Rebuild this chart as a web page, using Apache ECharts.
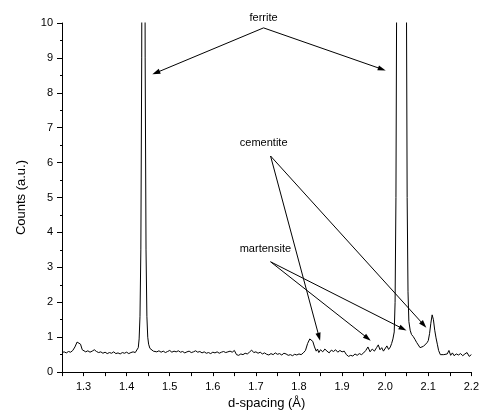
<!DOCTYPE html>
<html><head><meta charset="utf-8">
<script src="https://cdn.jsdelivr.net/npm/echarts@6/dist/echarts.min.js"></script>
<style>html,body{margin:0;padding:0;background:#fff}#c{width:482px;height:415px}</style>
</head><body><div id="c"></div>
<script>
// d-spacing (Å)
var dSpacing = [
1.250,1.255,1.260,1.265,1.270,1.275,1.280,1.285,1.289,1.293,1.297,1.300,1.305,1.310,1.315,1.320,1.325,1.330,1.335,1.340,
1.345,1.350,1.355,1.360,1.365,1.370,1.375,1.380,1.385,1.390,1.395,1.400,1.405,1.410,1.415,1.420,
1.424,1.427,1.429,1.431,1.433,1.435,1.437,1.439,1.441,1.443,1.445,1.447,1.449,1.451,1.454,1.458,
1.462,1.466,1.470,1.475,1.480,1.485,1.490,1.495,1.500,1.505,1.510,1.515,1.520,1.525,1.530,1.535,1.540,1.545,
1.550,1.555,1.560,1.565,1.570,1.575,1.580,1.585,1.590,1.595,1.600,1.605,1.610,1.615,1.620,1.625,1.630,1.635,
1.640,1.645,1.650,1.655,1.660,1.665,1.670,1.675,1.680,1.685,1.690,1.695,1.700,1.705,1.710,1.715,1.720,1.725,
1.730,1.735,1.740,1.745,1.750,1.755,1.760,1.765,1.770,1.775,1.780,1.785,1.790,1.795,1.800,1.805,1.810,1.815,
1.820,1.825,1.828,1.832,1.836,1.840,1.843,1.846,1.850,1.855,1.860,1.865,1.870,1.875,1.880,1.885,1.890,1.895,
1.900,1.905,1.910,1.915,1.920,1.925,1.930,1.935,1.940,1.945,1.950,1.955,1.960,1.965,1.970,1.975,1.980,1.984,
1.988,1.992,1.996,2.000,2.004,2.008,2.012,2.015,2.018,2.021,2.023,2.025,2.027,2.030,2.038,2.046,2.049,2.051,
2.053,2.055,2.058,2.061,2.065,2.069,2.073,2.077,2.081,2.085,2.089,2.093,2.097,2.100,2.103,2.106,2.109,2.112,
2.115,2.118,2.121,2.124,2.128,2.132,2.136,2.140,2.144,2.148,2.152,2.156,2.160,2.165,2.170,2.175,2.180,2.185,
2.190,2.195,2.200
];
// Counts (a.u.)
var counts = [
0.56,0.58,0.55,0.59,0.57,0.62,0.72,0.86,0.88,0.80,0.64,0.60,0.58,0.61,0.57,0.60,0.64,0.59,0.56,0.58,
0.54,0.57,0.53,0.56,0.54,0.58,0.53,0.55,0.52,0.56,0.54,0.57,0.53,0.56,0.58,0.56,
0.60,0.70,0.95,1.6,3.5,9,25,40,25,9,3.5,1.6,1.0,0.8,0.68,0.64,
0.60,0.62,0.58,0.61,0.57,0.60,0.56,0.59,0.62,0.57,0.60,0.58,0.61,0.57,0.59,0.55,0.58,0.60,
0.56,0.58,0.61,0.57,0.59,0.55,0.58,0.54,0.56,0.53,0.57,0.55,0.58,0.54,0.57,0.59,0.56,0.58,
0.60,0.57,0.62,0.50,0.48,0.52,0.50,0.54,0.52,0.57,0.63,0.56,0.58,0.54,0.57,0.52,0.55,0.51,
0.49,0.53,0.50,0.55,0.51,0.53,0.49,0.54,0.52,0.48,0.50,0.47,0.51,0.49,0.52,0.50,0.55,0.62,
0.82,0.95,1.00,0.88,0.72,0.60,0.66,0.56,0.64,0.58,0.66,0.60,0.55,0.63,0.59,0.64,0.57,0.62,
0.58,0.60,0.50,0.45,0.48,0.46,0.52,0.48,0.53,0.50,0.55,0.62,0.72,0.58,0.66,0.60,0.70,0.78,
0.64,0.70,0.60,0.58,0.75,0.65,0.72,0.82,0.95,1.15,2.0,5,12,30,60,30,12,5,
2.3,1.45,1.20,1.08,1.02,0.94,0.85,0.80,0.70,0.66,0.74,0.78,0.84,0.90,1.10,1.40,1.64,1.50,
1.20,0.98,0.80,0.62,0.50,0.47,0.50,0.48,0.52,0.62,0.48,0.55,0.47,0.52,0.49,0.53,0.47,0.52,
0.56,0.45,0.50
];
var yTicks = [0,1,2,3,4,5,6,7,8,9,10];
var xTickLabels = ['1.3','1.4','1.5','1.6','1.7','1.8','1.9','2.0','2.1','2.2'];

// annotations: label, label anchor, arrow start, arrow heads (data coordinates)
var annoLabels = ['ferrite','cementite','martensite'];
var annoText = [[1.7177,10.14],[1.718,6.55],[1.722,3.53]];
var annoFrom = [[1.7177,9.86],[1.734,6.19],[1.734,3.16]];
var annoTo = [
  [[1.4597,8.53],[2.0012,8.64]],
  [[1.849,0.90],[2.0956,1.27]],
  [[1.9666,0.90],[2.0495,1.19]]
];

var pairs = dSpacing.map(function(d,i){return [d,counts[i]];});
var chart = echarts.init(document.getElementById('c'));
var FONT = 'Liberation Sans, Arial, sans-serif';
chart.setOption({
  animation:false,
  grid:{left:62,right:4,top:23,bottom:38},
  xAxis:{type:'value',min:1.25,max:2.2,interval:0.05,
    name:'d-spacing (Å)',nameLocation:'middle',nameGap:20,
    nameTextStyle:{fontFamily:FONT,fontSize:13,color:'#000'},
    axisLine:{onZero:false,lineStyle:{color:'#000',width:1}},
    axisTick:{length:4,lineStyle:{color:'#000'}},
    splitLine:{show:false},
    axisLabel:{fontFamily:FONT,fontSize:11,color:'#000',margin:9,showMaxLabel:true,showMinLabel:true,
      formatter:function(v){var s=v.toFixed(1);var k=Math.round(v*100);return (k%10===0 && xTickLabels.indexOf(s)>=0)?s:'';}}
  },
  yAxis:{type:'value',min:yTicks[0],max:yTicks[yTicks.length-1],interval:1,
    name:'Counts (a.u.)',nameLocation:'middle',nameGap:34,
    nameTextStyle:{fontFamily:FONT,fontSize:13,color:'#000'},
    axisLine:{show:true,lineStyle:{color:'#000',width:1}},
    axisTick:{show:true,length:5,lineStyle:{color:'#000'}},
    minorTick:{show:true,splitNumber:2,length:2,lineStyle:{color:'#000'}},
    splitLine:{show:false},
    axisLabel:{fontFamily:FONT,fontSize:11,color:'#000',margin:9}
  },
  series:[{type:'line',data:pairs,showSymbol:false,symbol:'none',clip:true,
    lineStyle:{color:'#000',width:1}}]
});

function buildGraphics(){
  var els=[];
  annoLabels.forEach(function(lbl,i){
    var tp=chart.convertToPixel({gridIndex:0},annoText[i]);
    els.push({type:'text',x:tp[0],y:tp[1],style:{text:lbl,fontFamily:FONT,fontSize:11,fill:'#000',align:'center',verticalAlign:'middle'}});
    var f=chart.convertToPixel({gridIndex:0},annoFrom[i]);
    annoTo[i].forEach(function(t){
      var p=chart.convertToPixel({gridIndex:0},t);
      var dx=p[0]-f[0],dy=p[1]-f[1],L=Math.sqrt(dx*dx+dy*dy),ux=dx/L,uy=dy/L;
      var hl=8,hw=2.6;
      var bx=p[0]-ux*hl,by=p[1]-uy*hl;
      els.push({type:'line',shape:{x1:f[0],y1:f[1],x2:bx+ux*2,y2:by+uy*2},style:{stroke:'#000',lineWidth:1}});
      els.push({type:'polygon',shape:{points:[[p[0],p[1]],[bx-uy*hw,by+ux*hw],[bx+uy*hw,by-ux*hw]]},style:{fill:'#000'}});
    });
  });
  chart.setOption({graphic:els});
}
buildGraphics();
</script></body></html>
